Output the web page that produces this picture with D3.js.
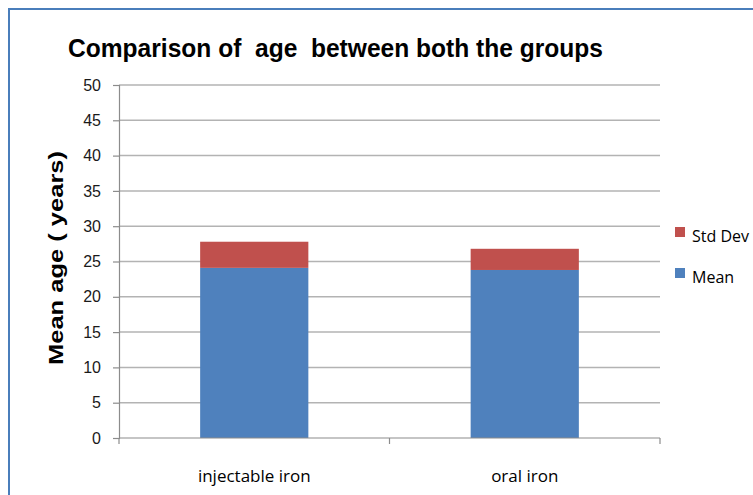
<!DOCTYPE html>
<html>
<head>
<meta charset="utf-8">
<script src="https://cdn.jsdelivr.net/npm/d3@7"></script>
<style>
    body { margin: 0; background: #fff; }
    svg { display: block; }
</style>
</head>
<body>
<div id="chart"></div>
<script>
(function () {
    'use strict';

    // data
    var categories = ['injectable iron', 'oral iron'];
    var meanValues = [24.1, 23.8];
    var stdDevValues = [3.7, 3.0];
    var yTicks = [0, 5, 10, 15, 20, 25, 30, 35, 40, 45, 50];
    var seriesNames = ['Std Dev', 'Mean'];

    var colors = {
        mean: '#4f81bd',
        std: '#c0504d'
    };

    var W = 753, H = 495;
    var plot = { left: 119, right: 660, top: 85, bottom: 438 };
    var labelFont = '"Open Sans", "Liberation Sans", sans-serif';
    var tickFont = '"Liberation Sans Narrow", "Liberation Sans", sans-serif';

    var svg = d3.select('#chart').append('svg')
        .attr('width', W)
        .attr('height', H);

    // frame border
    svg.append('path')
        .attr('d', 'M9,' + H + 'V9H' + W)
        .attr('fill', 'none')
        .attr('stroke', '#4a7ebb')
        .attr('stroke-width', 2);

    var x = d3.scaleBand()
        .domain(categories)
        .range([plot.left, plot.right]);

    var y = d3.scaleLinear()
        .domain([0, 50])
        .range([plot.bottom, plot.top]);

    // gridlines
    svg.append('g')
        .selectAll('line')
        .data(yTicks.slice(1))
        .enter().append('line')
        .attr('x1', plot.left)
        .attr('x2', plot.right)
        .attr('y1', function (d) { return y(d); })
        .attr('y2', function (d) { return y(d); })
        .attr('stroke', '#b3b3b3')
        .attr('stroke-width', 1.5);

    // stacked bars
    var barW = x.bandwidth() * 0.4;
    var stack = categories.map(function (c, i) {
        return { cat: c, mean: meanValues[i], std: stdDevValues[i] };
    });
    var barX = function (d) { return x(d.cat) + (x.bandwidth() - barW) / 2; };

    var bars = svg.append('g');
    bars.selectAll('rect.mean')
        .data(stack)
        .enter().append('rect')
        .attr('class', 'mean')
        .attr('x', barX)
        .attr('width', barW)
        .attr('y', function (d) { return y(d.mean); })
        .attr('height', function (d) { return y(0) - y(d.mean); })
        .attr('fill', colors.mean);

    bars.selectAll('rect.std')
        .data(stack)
        .enter().append('rect')
        .attr('class', 'std')
        .attr('x', barX)
        .attr('width', barW)
        .attr('y', function (d) { return y(d.mean + d.std); })
        .attr('height', function (d) { return y(d.mean) - y(d.mean + d.std); })
        .attr('fill', colors.std);

    // y axis
    var yAxis = svg.append('g')
        .attr('transform', 'translate(' + plot.left + ',0)')
        .call(d3.axisLeft(y).tickValues(yTicks).tickSize(6).tickPadding(12));
    yAxis.select('.domain').attr('stroke', '#8c8c8c').attr('stroke-width', 1.2);
    yAxis.selectAll('.tick line').attr('stroke', '#8c8c8c').attr('stroke-width', 1.2);
    yAxis.selectAll('.tick text')
        .attr('fill', '#1a1a1a')
        .style('font-family', tickFont)
        .style('font-size', '16px');

    // x axis
    var xAxis = svg.append('g')
        .attr('transform', 'translate(0,' + plot.bottom + ')');
    xAxis.append('line')
        .attr('x1', plot.left).attr('x2', plot.right)
        .attr('stroke', '#8c8c8c').attr('stroke-width', 1.2);
    var xEdges = [plot.left].concat(categories.map(function (c) { return x(c) + x.bandwidth(); }));
    xAxis.selectAll('line.tick')
        .data(xEdges)
        .enter().append('line')
        .attr('class', 'tick')
        .attr('x1', function (d) { return d; })
        .attr('x2', function (d) { return d; })
        .attr('y1', 0).attr('y2', 6)
        .attr('stroke', '#8c8c8c').attr('stroke-width', 1.2);
    xAxis.selectAll('text')
        .data(categories)
        .enter().append('text')
        .attr('x', function (d) { return x(d) + x.bandwidth() / 2; })
        .attr('y', 44)
        .attr('text-anchor', 'middle')
        .attr('fill', '#000')
        .style('font-family', labelFont)
        .style('font-size', '17px')
        .text(function (d) { return d; });

    // title (double spaces kept as in the original)
    svg.append('text')
        .attr('x', 68)
        .attr('y', 57)
        .attr('fill', '#000')
        .style('white-space', 'pre')
        .style('font-family', '"Liberation Sans", Arial, sans-serif')
        .style('font-weight', 'bold')
        .style('font-size', '26px')
        .attr('textLength', 535)
        .attr('lengthAdjust', 'spacingAndGlyphs')
        .text('Comparison of  age  between both the groups');

    // y title
    svg.append('text')
        .attr('transform', 'translate(63,258) rotate(-90)')
        .attr('text-anchor', 'middle')
        .attr('fill', '#000')
        .style('font-family', '"Liberation Sans", Arial, sans-serif')
        .style('font-weight', 'bold')
        .style('font-size', '21px')
        .attr('textLength', 214)
        .attr('lengthAdjust', 'spacingAndGlyphs')
        .text('Mean age ( years)');

    // legend
    var legendItems = svg.append('g')
        .selectAll('g')
        .data(seriesNames)
        .enter().append('g')
        .attr('transform', function (d, i) { return 'translate(675,' + (227 + i * 41) + ')'; });
    legendItems.append('rect')
        .attr('width', 10).attr('height', 10)
        .attr('fill', function (d) { return d === 'Mean' ? colors.mean : colors.std; });
    legendItems.append('text')
        .attr('x', 17)
        .attr('y', 15)
        .attr('fill', '#000')
        .style('font-family', labelFont)
        .style('font-size', '16px')
        .text(function (d) { return d; });
}());
</script>
</body>
</html>
